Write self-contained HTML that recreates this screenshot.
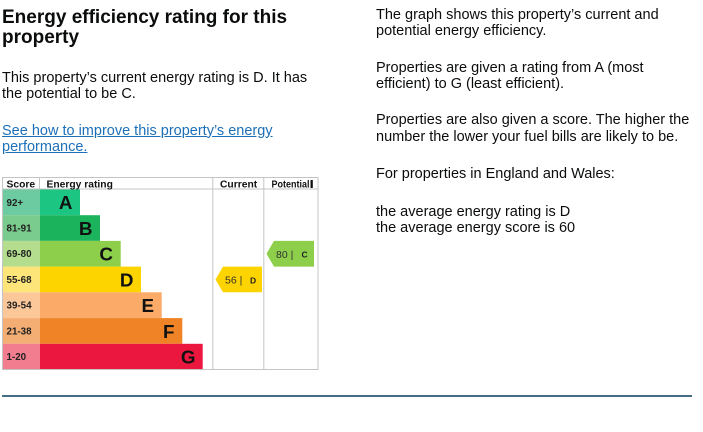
<!DOCTYPE html>
<html>
<head>
<meta charset="utf-8">
<style>
  html,body{margin:0;padding:0;background:#fff;}
  body{width:703px;height:432px;position:relative;overflow:hidden;font-family:"Liberation Sans",Arial,sans-serif;color:#0b0c0c;}
  .t{position:absolute;font-size:14.5px;line-height:16.7px;white-space:nowrap;}
  h1{position:absolute;left:2px;top:7.5px;margin:0;font-size:19px;line-height:20px;font-weight:bold;white-space:nowrap;}
  a{color:#1d70b8;text-decoration:underline;}
  svg{position:absolute;left:0;top:0;}
</style>
</head>
<body>
<h1>Energy efficiency rating for this<br>property</h1>
<div class="t" style="left:2px;top:69.5px;">This property’s current energy rating is D. It has<br>the potential to be C.</div>
<div class="t" style="left:2px;top:122.5px;"><a>See how to improve this property’s energy<br>performance.</a></div>

<div class="t" style="left:376px;top:6.5px;">The graph shows this property’s current and<br>potential energy efficiency.</div>
<div class="t" style="left:376px;top:59.5px;">Properties are given a rating from A (most<br>efficient) to G (least efficient).</div>
<div class="t" style="left:376px;top:112px;">Properties are also given a score. The higher the<br>number the lower your fuel bills are likely to be.</div>
<div class="t" style="left:376px;top:166px;">For properties in England and Wales:</div>
<div class="t" style="left:376px;top:203.5px;">the average energy rating is D<br>the average energy score is 60</div>

<svg width="703" height="432" viewBox="0 0 703 432" xmlns="http://www.w3.org/2000/svg" font-family="Liberation Sans, Arial, sans-serif">
  <!-- score column -->
  <rect x="2" y="189.5" width="38" height="25.7" fill="#6ccba1"/>
  <rect x="2" y="215.2" width="38" height="25.7" fill="#7acb8e"/>
  <rect x="2" y="240.9" width="38" height="25.7" fill="#b4dd8e"/>
  <rect x="2" y="266.6" width="38" height="25.7" fill="#fde57a"/>
  <rect x="2" y="292.3" width="38" height="25.8" fill="#fdc899"/>
  <rect x="2" y="318.1" width="38" height="25.7" fill="#f4ad73"/>
  <rect x="2" y="343.8" width="38" height="25.7" fill="#f17d8f"/>
  <!-- bars -->
  <rect x="40" y="189.5" width="40" height="25.7" fill="#1dc583"/>
  <rect x="40" y="215.2" width="60" height="25.7" fill="#1bb35c"/>
  <rect x="40" y="240.9" width="80.7" height="25.7" fill="#8dcf4b"/>
  <rect x="40" y="266.6" width="101" height="25.7" fill="#fdd300"/>
  <rect x="40" y="292.3" width="121.7" height="25.8" fill="#fbaa67"/>
  <rect x="40" y="318.1" width="142.3" height="25.7" fill="#ef8326"/>
  <rect x="40" y="343.8" width="162.7" height="25.7" fill="#eb173e"/>
  <!-- borders -->
  <g stroke="#c4c4c4" stroke-width="1" fill="none">
    <rect x="2.5" y="177.5" width="315.5" height="192"/>
    <line x1="2" y1="189" x2="318" y2="189"/>
    <line x1="39.5" y1="177.5" x2="39.5" y2="189"/>
    <line x1="212.8" y1="177.5" x2="212.8" y2="369.5"/>
    <line x1="263.8" y1="177.5" x2="263.8" y2="369.5"/>
  </g>
  <!-- header text -->
  <g font-size="10.3" font-weight="bold" fill="#111">
    <text x="6.5" y="187.5">Score</text>
    <text x="46.5" y="187.5">Energy rating</text>
    <text x="220" y="187.5">Current</text>
    <text x="271.5" y="187.5" textLength="38" lengthAdjust="spacingAndGlyphs">Potential</text>
  </g>
  <rect x="310.5" y="180" width="2.3" height="8" fill="#111"/>
  <!-- score labels -->
  <g font-size="9.8" font-weight="bold" fill="#222">
    <text x="6.5" y="205.8">92+</text>
    <text x="6.5" y="231.5">81-91</text>
    <text x="6.5" y="257.2">69-80</text>
    <text x="6.5" y="282.9">55-68</text>
    <text x="6.5" y="308.6">39-54</text>
    <text x="6.5" y="334.4">21-38</text>
    <text x="6.5" y="360.1">1-20</text>
  </g>
  <!-- letters -->
  <g font-size="18.8" font-weight="bold" fill="#111" text-anchor="end">
    <text x="72.5" y="209.2">A</text>
    <text x="92.5" y="234.9">B</text>
    <text x="113" y="260.6">C</text>
    <text x="133.5" y="286.3">D</text>
    <text x="154" y="312">E</text>
    <text x="174.5" y="337.8">F</text>
    <text x="195.5" y="363.5">G</text>
  </g>
  <!-- current arrow -->
  <polygon points="215.5,279.5 223,266.6 262,266.6 262,292.3 223,292.3" fill="#fdd300"/>
  <text x="225" y="283.5" font-size="10.5" fill="#333">56 |</text>
  <text x="250" y="283.3" font-size="8.5" font-weight="bold" fill="#222">D</text>
  <!-- potential arrow -->
  <polygon points="266.5,253.8 274,240.9 314,240.9 314,266.6 274,266.6" fill="#8dcf4b"/>
  <text x="276" y="257.8" font-size="10.5" fill="#333">80 |</text>
  <text x="301.5" y="257.6" font-size="8.5" font-weight="bold" fill="#222">C</text>
  <!-- bottom divider -->
  <rect x="2" y="395" width="690" height="2" fill="#456d86"/>
</svg>
</body>
</html>
